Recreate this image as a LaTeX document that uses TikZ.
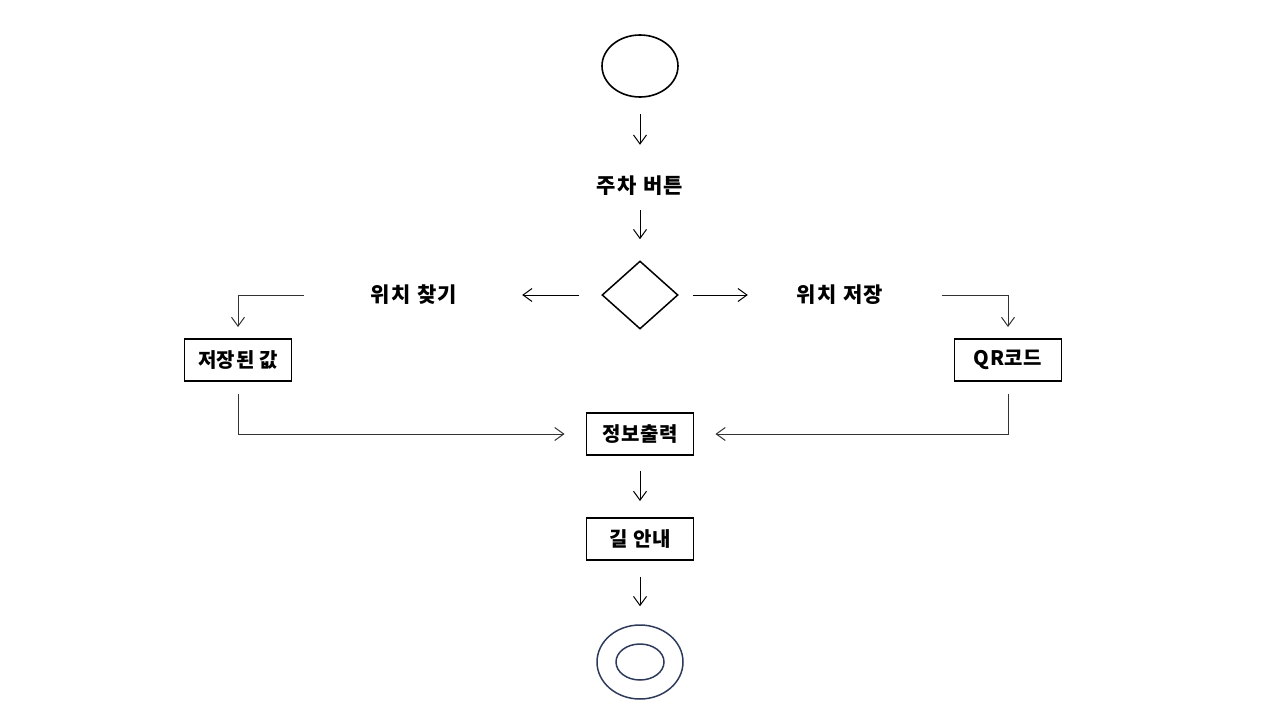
\documentclass[tikz,border=0pt]{standalone}
\usepackage{fontspec}
\setmainfont{Noto Sans CJK KR}
\usetikzlibrary{shapes.geometric,arrows.meta}
\definecolor{navy}{HTML}{2E3A5C}
\begin{document}
\begin{tikzpicture}[x=1pt,y=-1pt,
  box/.style={draw, line width=1.9pt, minimum width=107pt, minimum height=42pt, inner sep=0pt, font=\fontsize{20}{24}\selectfont\bfseries\addfontfeatures{LetterSpace=3}},
  lbl/.style={inner sep=0pt, minimum width=100pt, minimum height=24pt, font=\fontsize{21}{24}\selectfont\bfseries\addfontfeatures{LetterSpace=7}},
  arr/.style={-{Straight Barb[length=9pt,width=13pt]}, line width=1pt},
  seg/.style={line width=1pt, draw=black!80}]
\useasboundingbox (0,0) rectangle (1280,720);
\node[draw, ellipse, line width=1.6pt, minimum width=76pt, minimum height=62pt, inner sep=0pt] (start) at (640,66) {};
\node[lbl] (btn) at (640,186) {주차 버튼};
\node[draw, diamond, line width=1.5pt, minimum width=76pt, minimum height=68pt, inner sep=0pt] (dec) at (640,295) {};
\node[lbl] (find) at (414,295) {위치 찾기};
\node[lbl] (save) at (840,295) {위치 저장};
\node[box] (stored) at (238,360) {저장된 값};
\node[box] (qr) at (1008,360) {QR코드};
\node[box] (info) at (640,434) {정보출력};
\node[box] (guide) at (640,539) {길 안내};
\node[draw=navy, ellipse, line width=1.5pt, minimum width=86pt, minimum height=74pt, inner sep=0pt] (endo) at (640,662) {};
\node[draw=navy, ellipse, line width=1.5pt, minimum width=48pt, minimum height=36pt, inner sep=0pt] (endi) at (640,662) {};

\draw[arr, shorten <=16pt, shorten >=29pt] (start) -- (btn);
\draw[arr, shorten <=12pt, shorten >=21pt] (btn) -- (dec);
\draw[arr, shorten <=22pt, shorten >=58pt] (dec.west) -- (find.east);
\draw[arr, shorten <=14pt, shorten >=42pt] (dec.east) -- (save.west);
\draw[arr, seg, shorten <=60pt, shorten >=11pt] (find.west) -| (stored.north);
\draw[arr, seg, shorten <=52pt, shorten >=11pt] (save.east) -| (qr.north);
\draw[arr, seg, shorten <=12pt, shorten >=21pt] (stored.south) |- (info.west);
\draw[arr, seg, shorten <=12pt, shorten >=21pt] (qr.south) |- (info.east);
\draw[arr, shorten <=15pt, shorten >=16pt] (info) -- (guide);
\draw[arr, shorten <=16pt, shorten >=18pt] (guide) -- (endo);
\end{tikzpicture}
\end{document}
